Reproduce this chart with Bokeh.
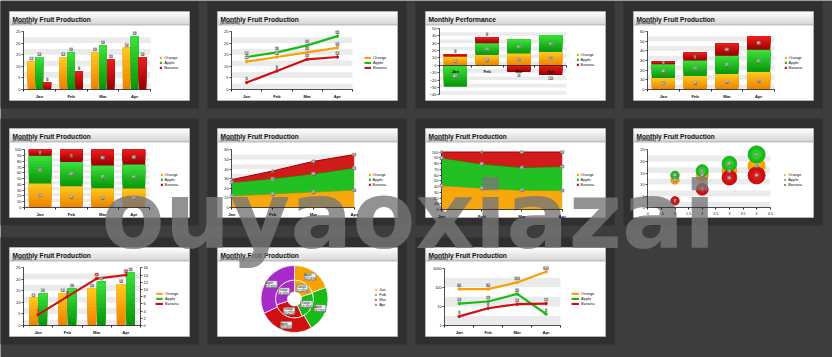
import numpy as np
from bokeh.plotting import figure
from bokeh.models import (Range1d, LinearAxis, LogAxis, LogScale, FixedTicker,
                          ColumnDataSource, LabelSet, Legend, LegendItem, BasicTickFormatter)
from bokeh.core.properties import value
from bokeh.embed import file_html
from bokeh.resources import INLINE

# ---------------- data ----------------
months = ["Jan", "Feb", "Mar", "Apr"]
series = ["Orange", "Apple", "Banana"]
orange = [12, 14, 16, 18]
apple = [14, 16, 19, 23]
banana = [3, 8, 13, 14]
perf_orange = [12, 14, 16, 18]
perf_apple = [-29, 16, 19, 23]
perf_banana = [3, 8, -9, -13]
bubble_x = [1, 2, 3, 4]
bubble_size = [1, 2, 3, 4]
log_orange = [80, 80, 180, 650]
log_apple = [14, 18, 45, 4]
log_banana = [3, 8, 13, 14]
ticks_25 = [0, 5, 10, 15, 20, 25]
ticks_60 = [0, 10, 20, 30, 40, 50, 60]
ticks_perf = [-40, -30, -20, -10, 0, 10, 20, 30, 40, 50]
ticks_100 = [0, 10, 20, 30, 40, 50, 60, 70, 80, 90, 100]
ticks_16 = [0, 2, 4, 6, 8, 10, 12, 14, 16]
ticks_log = [1, 10, 100, 1000]
ticks_bubble = [0, 0.5, 1, 1.5, 2, 2.5, 3, 3.5, 4, 4.5]
labels_bubble = ["0", "0.5", "1", "1.5", "2", "2.5", "3", "3.5", "4", "4.5"]
title_main = "Monthly Fruit Production"
title_perf = "Monthly Performance"
subtitle = "(in millions)"
watermark = "ouyaoxiazai"

# ---------------- layout / style ----------------
W, H = 832, 357
FONT = "Liberation Sans"
BG, PANEL = "#3d3d3d", "#2f2f2f"
C_OR, C_AP, C_BA, C_PU = "#f5a300", "#17bd17", "#d01010", "#a82ac8"
SER_COL = [C_OR, C_AP, C_BA]
MONTH_COL = [C_OR, C_AP, C_BA, C_PU]
GRAD = {C_OR: ("#ee8400", "#ffc61c"), C_AP: ("#0a980a", "#3ade3a"), C_BA: ("#9c0000", "#ec1c1c")}
col_x = [9, 217, 425, 633]
row_y = [11, 128, 247]
CW, CH = 180, 89
cells = [(0, 0), (1, 0), (2, 0), (3, 0), (0, 1), (1, 1), (2, 1), (3, 1), (0, 2), (1, 2), (2, 2)]

p = figure(width=W, height=H, x_range=Range1d(0, W), y_range=Range1d(H, 0),
           output_backend="svg", toolbar_location=None, x_axis_type=None, y_axis_type=None,
           min_border=0, outline_line_color=None, background_fill_color=BG,
           border_fill_color=BG)
p.extra_x_ranges = {}
p.extra_y_ranges = {}
p.extra_y_scales = {}

# panels, cards, title bars
cxs = np.array([col_x[c] for c, r in cells], dtype=float)
cys = np.array([row_y[r] for c, r in cells], dtype=float)
p.quad(left=cxs - 10, right=cxs + 189, top=np.maximum(cys - 10, 0), bottom=cys + 97,
       fill_color=PANEL, line_color=None)
p.quad(left=cxs, right=cxs + CW, top=cys, bottom=cys + CH, fill_color="white",
       line_color="#c8c8c8", line_width=0.6)
grad = ["#fbfbfb", "#f4f4f4", "#ececec", "#e4e4e4", "#dcdcdc", "#d5d5d5"]
for i, gc in enumerate(grad):
    p.quad(left=cxs + 0.5, right=cxs + CW - 0.5, top=cys + 0.5 + i * 2.1, bottom=cys + 0.5 + (i + 1) * 2.1,
           fill_color=gc, line_color=None)
p.segment(x0=cxs, x1=cxs + CW, y0=cys + 13.4, y1=cys + 13.4, line_color="#9a9a9a", line_width=0.8)
titles = [title_main, title_main, title_perf] + [title_main] * 8
p.text(x=cxs + 3, y=cys + 8.3, text=titles, text_font=value(FONT), text_font_style="bold",
       text_font_size="6.6px", text_color="#111111", text_baseline="alphabetic")
sub_idx = [i for i in range(len(cells)) if i != 2]
p.text(x=cxs[sub_idx] + 3, y=cys[sub_idx] + 11.7, text=[subtitle] * len(sub_idx),
       text_font=value(FONT), text_font_style="bold", text_font_size="3.4px",
       text_color="#222222", text_baseline="alphabetic")


# ---------------- helpers ----------------
def xr(name, a0, a1, d0, d1):
    k = (d1 - d0) / (a1 - a0)
    p.extra_x_ranges[name] = Range1d(float(d0 - a0 * k), float(d0 + (W - a0) * k))


def yr(name, a0, a1, d0, d1, log=False):
    if log:
        l0, l1 = np.log10(d0), np.log10(d1)
        k = (l1 - l0) / (a0 - a1)
        p.extra_y_ranges[name] = Range1d(float(10 ** (l0 - (H - a0) * k)), float(10 ** (l0 + a0 * k)))
        p.extra_y_scales[name] = LogScale()
    else:
        k = (d1 - d0) / (a0 - a1)
        p.extra_y_ranges[name] = Range1d(float(d0 - (H - a0) * k), float(d0 + a0 * k))


def rk(name, yname=None):
    return dict(x_range_name=name, y_range_name=yname or name)


def hex2rgb(h):
    return np.array([int(h[i:i + 2], 16) for i in (1, 3, 5)], float)


def mix(c0, c1, t):
    c = hex2rgb(c0) * (1 - t) + hex2rgb(c1) * t
    return "#%02x%02x%02x" % tuple(int(round(v)) for v in c)


def gbar(name, x, bottom, top, width, col, ns=10, yname=None):
    bottom = np.asarray(bottom, float) * np.ones(len(x))
    top = np.asarray(top, float)
    lo, hi = np.minimum(bottom, top), np.maximum(bottom, top)
    c0, c1 = GRAD[col]
    rends = []
    for j in range(ns):
        b = lo + (hi - lo) * j / ns
        rends.append(p.vbar(x=x, bottom=b, top=hi, width=width, fill_color=mix(c0, c1, j / (ns - 1)),
                            line_color=None, **rk(name, yname)))
    return rends[ns // 2]


def bands(name, x0, x1, ticks, log=False):
    b = np.array(ticks[:-1], dtype=float)
    t = np.array(ticks[1:], dtype=float)
    tops = np.sqrt(b * t) if log else b + (t - b) / 2
    p.quad(left=x0, right=x1, bottom=b, top=tops, fill_color="#ebebeb", line_color=None, **rk(name))


def labels(name, xs, ys, texts, yoff=0.0, fill="#e4e4e4", border="#888888", size="3px",
           yname=None, color="#111111"):
    data = dict(x=[float(v) for v in xs], y=[float(v) for v in ys], t=[str(s) for s in texts])
    if isinstance(yoff, (list, tuple, np.ndarray)):
        data["yo"] = [float(v) for v in yoff]
        yspec = "yo"
    else:
        yspec = yoff
    ls = LabelSet(x="x", y="y", text="t", source=ColumnDataSource(data), y_offset=yspec,
                  text_font=value(FONT), text_font_size=size, text_color=color,
                  text_align="center", text_baseline="middle",
                  background_fill_color=fill, border_line_color=border, border_line_width=0.5,
                  **rk(name, yname))
    p.add_layout(ls)


def y_axis(xname, yname, ticks, loc, side="left", log=False):
    cls = LogAxis if log else LinearAxis
    ax = cls(x_range_name=xname, y_range_name=yname, fixed_location=loc,
             bounds=(ticks[0], ticks[-1]), ticker=FixedTicker(ticks=ticks),
             axis_line_color="#222222", axis_line_width=0.8,
             major_tick_line_color="#222222", major_tick_line_width=0.8,
             major_tick_out=2, major_tick_in=0, minor_tick_line_color=None,
             major_label_text_font=FONT, major_label_text_font_size="4px",
             major_label_text_color="#111111", major_label_standoff=1)
    if log:
        ax.formatter = BasicTickFormatter()
    p.add_layout(ax, side)


def x_axis(name, loc, ticks, tick_labels, bounds, minor=None, major_ticks=False, bold=True, size="4.2px"):
    ax = LinearAxis(x_range_name=name, y_range_name=name, fixed_location=loc, bounds=bounds,
                    ticker=FixedTicker(ticks=[float(t) for t in ticks],
                                       minor_ticks=[float(t) for t in (minor or [])]),
                    major_label_overrides={float(t): l for t, l in zip(ticks, tick_labels)},
                    axis_line_color="#222222", axis_line_width=0.8,
                    major_tick_line_color="#222222" if major_ticks else None,
                    major_tick_out=2 if major_ticks else 0, major_tick_in=0,
                    minor_tick_line_color="#222222", minor_tick_out=2, minor_tick_in=0,
                    major_label_text_font=FONT, major_label_text_font_size=size,
                    major_label_text_font_style="bold" if bold else "normal",
                    major_label_text_color="#111111", major_label_standoff=2)
    p.add_layout(ax, "below")


def legend(items, left, first_center, gw=3, gh=3, pitch=4.5):
    n_i = len(items)
    bottom = first_center - pitch / 2 + n_i * pitch
    lg = Legend(items=items, location=(left, H - bottom), orientation="vertical",
                label_text_font=FONT, label_text_font_size="4px", label_text_color="#111111",
                label_standoff=2, label_height=3, label_width=8, glyph_width=gw, glyph_height=gh,
                spacing=0, padding=0, margin=0, border_line_color=None, background_fill_alpha=0)
    p.add_layout(lg)


n = len(months)
centers = np.arange(n) + 0.5
bounds_i = list(range(n + 1))
ser_vals = [np.array(orange, float), np.array(apple, float), np.array(banana, float)]

# ---------------- chart 1: grouped bars ----------------
xr("c1", 23, 150, 0, n); yr("c1", 89, 31, 0, 25)
bands("c1", 0, n, ticks_25)
rs = []
for off, vals, col in zip((-0.25, 0.0, 0.25), ser_vals, SER_COL):
    rs.append(gbar("c1", centers + off, 0, vals, 0.24, col))
for off, vals in zip((-0.25, 0.0, 0.25), ser_vals):
    labels("c1", centers + off, vals, vals.astype(int), yoff=3)
y_axis("c1", "c1", ticks_25, 0)
x_axis("c1", 0, centers, months, (0, n), minor=bounds_i)
legend([LegendItem(label=s, renderers=[r]) for s, r in zip(series, rs)], 159.2, 58.3)

# ---------------- chart 2: lines ----------------
xr("c2", 231, 352, 0, n); yr("c2", 89, 31, 0, 25)
bands("c2", 0, n, ticks_25)
items = []
for vals, col, s in zip(ser_vals, SER_COL, series):
    l = p.line(x=centers, y=vals, line_color=col, line_width=2.2, **rk("c2"))
    m = p.scatter(x=centers, y=vals, size=2.5, fill_color=col, line_color=col, **rk("c2"))
    items.append(LegendItem(label=s, renderers=[l, m]))
for vals in ser_vals:
    labels("c2", centers, vals, vals.astype(int), yoff=4)
y_axis("c2", "c2", ticks_25, 0)
x_axis("c2", 0, centers, months, (0, n), minor=bounds_i)
legend(items, 364, 58.3, gw=7)

# ---------------- chart 3: performance (stacked with negatives) ----------------
xr("c3", 439, 566, 0, n); yr("c3", 94.3, 28, -40, 50)
bands("c3", 0, n, ticks_perf)
pos = np.zeros(n); neg = np.zeros(n)
rs = []; segs = []
for vals, col in zip([perf_orange, perf_apple, perf_banana], SER_COL):
    v = np.array(vals, float)
    bot = np.where(v >= 0, pos, neg)
    top = bot + v
    pos = np.where(v >= 0, top, pos)
    neg = np.where(v < 0, top, neg)
    rs.append(gbar("c3", centers, bot, top, 0.73, col))
    segs.append((bot, top, v))
for bot, top, v in segs[:2]:
    labels("c3", centers, (bot + top) / 2, v.astype(int))
bot, top, v = segs[2]
labels("c3", centers, top, v.astype(int), yoff=list(np.where(v >= 0, 3.2, -3.2)))
y_axis("c3", "c3", ticks_perf, 0)
x_axis("c3", 0, centers, months, (0, n), minor=bounds_i)
legend([LegendItem(label=s, renderers=[r]) for s, r in zip(series, rs)], 575.5, 56)

# ---------------- chart 4: stacked bars ----------------
xr("c4", 647, 774, 0, n); yr("c4", 89, 31, 0, 60)
bands("c4", 0, n, ticks_60)
base = np.zeros(n); rs = []
for vals, col in zip(ser_vals, SER_COL):
    rs.append(gbar("c4", centers, base, base + vals, 0.73, col))
    labels("c4", centers, base + vals / 2, vals.astype(int))
    base = base + vals
y_axis("c4", "c4", ticks_60, 0)
x_axis("c4", 0, centers, months, (0, n), minor=bounds_i)
legend([LegendItem(label=s, renderers=[r]) for s, r in zip(series, rs)], 783.5, 58.3)

# ---------------- chart 5: 100% stacked bars ----------------
total = ser_vals[0] + ser_vals[1] + ser_vals[2]
pct = [v / total * 100 for v in ser_vals]
xr("c5", 24, 149, 0, n); yr("c5", 207, 149.3, 0, 100)
bands("c5", 0, n, ticks_100)
base = np.zeros(n); rs = []
for vals, pv, col in zip(ser_vals, pct, SER_COL):
    rs.append(gbar("c5", centers, base, base + pv, 0.72, col))
    labels("c5", centers, base + pv / 2, vals.astype(int))
    base = base + pv
y_axis("c5", "c5", ticks_100, 0)
x_axis("c5", 0, centers, months, (0, n), minor=bounds_i)
legend([LegendItem(label=s, renderers=[r]) for s, r in zip(series, rs)], 159.5, 176)

# ---------------- chart 6: stacked area ----------------
xi = np.arange(n)
xr("c6", 231.3, 353.7, 0, n - 1); yr("c6", 207, 149.3, 0, 60)
bands("c6", 0, n - 1, ticks_60)
base = np.zeros(n); rs = []
for vals, col in zip(ser_vals, SER_COL):
    rs.append(p.varea(x=xi, y1=base, y2=base + vals, fill_color=col, fill_alpha=0.95, **rk("c6")))
    p.line(x=xi, y=base + vals, line_color=GRAD[col][0], line_width=1, **rk("c6"))
    base = base + vals
    labels("c6", xi, base, vals.astype(int))
y_axis("c6", "c6", ticks_60, 0)
x_axis("c6", 0, xi, months, (0, n - 1), major_ticks=True)
legend([LegendItem(label=s, renderers=[r]) for s, r in zip(series, rs)], 367.5, 176)

# ---------------- chart 7: 100% stacked area ----------------
xr("c7", 441, 561.7, 0, n - 1); yr("c7", 209, 151.5, 0, 100)
bands("c7", 0, n - 1, ticks_100)
base = np.zeros(n); rs = []
for vals, pv, col in zip(ser_vals, pct, SER_COL):
    rs.append(p.varea(x=xi, y1=base, y2=base + pv, fill_color=col, fill_alpha=0.95, **rk("c7")))
    p.line(x=xi, y=base + pv, line_color=GRAD[col][0], line_width=1, **rk("c7"))
    base = base + pv
    labels("c7", xi, base, vals.astype(int))
y_axis("c7", "c7", ticks_100, 0)
x_axis("c7", 0, xi, months, (0, n - 1), major_ticks=True)
legend([LegendItem(label=s, renderers=[r]) for s, r in zip(series, rs)], 575.5, 176)

# ---------------- chart 8: bubbles ----------------
xr("c8", 647.3, 769.7, 0, 4.5); yr("c8", 207.3, 149.3, 0, 25)
bands("c8", 0, 4.5, ticks_25)
sizes = np.sqrt(np.array(bubble_size, float)) * 8.6
rs = []
for vals, col in zip(ser_vals, SER_COL):
    rs.append(p.scatter(x=bubble_x, y=vals, size=sizes, marker="circle", fill_color=col,
                        line_color=GRAD[col][0], line_width=0.6, **rk("c8")))
    p.scatter(x=bubble_x, y=vals, size=sizes * 0.6, marker="circle", fill_color=GRAD[col][1],
              fill_alpha=0.5, line_color=None, **rk("c8"))
for vals in ser_vals:
    labels("c8", bubble_x, vals, vals.astype(int))
y_axis("c8", "c8", ticks_25, 0)
x_axis("c8", 0, ticks_bubble, labels_bubble, (0, 4.5), major_ticks=True, bold=False, size="3.6px")
legend([LegendItem(label=s, renderers=[r]) for s, r in zip(series, rs)], 783.2, 176)

# ---------------- chart 9: bars + line on secondary axis ----------------
xr("c9", 23, 140, 0, n); yr("c9", 325, 267.3, 0, 25); yr("c9r", 325, 267.3, 0, 16)
bands("c9", 0, n, ticks_25)
rs = []
for off, vals, col in zip((-0.16, 0.16), ser_vals[:2], SER_COL[:2]):
    rs.append(gbar("c9", centers + off, 0, vals, 0.3, col))
    labels("c9", centers + off, vals, vals.astype(int), yoff=3)
lb = p.line(x=centers, y=ser_vals[2], line_color=C_BA, line_width=2.2, **rk("c9", "c9r"))
mb = p.scatter(x=centers, y=ser_vals[2], size=2.5, fill_color=C_BA, line_color=C_BA, **rk("c9", "c9r"))
labels("c9", centers, ser_vals[2], ser_vals[2].astype(int), yoff=4, fill="#f3b0b0",
       border="#cc3333", yname="c9r")
y_axis("c9", "c9", ticks_25, 0)
y_axis("c9", "c9r", ticks_16, n, side="right")
x_axis("c9", 0, centers, months, (0, n), minor=bounds_i)
legend([LegendItem(label="Orange", renderers=[rs[0]]), LegendItem(label="Apple", renderers=[rs[1]]),
        LegendItem(label="Banana", renderers=[lb, mb])], 155, 294.3, gw=8)

# ---------------- chart 10: donut ----------------
xr("c10", 294, 295, 0, 1); yr("c10", 298.5, 297.5, 0, 1)
ring_r = {"Orange": (7, 19), "Apple": (19, 33.5)}
outer_r = None
for sname, vals in (("Orange", ser_vals[0]), ("Apple", ser_vals[1])):
    fr = vals / vals.sum()
    cum = np.concatenate([[0.0], np.cumsum(fr)])
    start = np.pi / 2 - cum[1:] * 2 * np.pi
    end = np.pi / 2 - cum[:-1] * 2 * np.pi
    r0, r1 = ring_r[sname]
    r = p.annular_wedge(x=0, y=0, inner_radius=r0, outer_radius=r1, start_angle=start,
                        end_angle=end, fill_color=MONTH_COL, line_color="white",
                        line_width=0.7, **rk("c10"))
    if sname == "Apple":
        outer_r = r
    mid = (start + end) / 2
    rm = (r0 + r1) / 2 + (1.0 if sname == "Apple" else 0.0)
    txt = [f"{sname}\n{int(v)} ({f * 100:.0f}%)" for v, f in zip(vals, fr)]
    labels("c10", rm * np.cos(mid), rm * np.sin(mid), txt, size="2.8px", fill="#eeeeee",
           border="#777777")
legend([LegendItem(label=m, renderers=[outer_r], index=i) for i, m in enumerate(months)],
       374.2, 291.7)

# ---------------- chart 11: log scale lines ----------------
xr("c11", 444.3, 560, 0, n); yr("c11", 325, 267.7, 1, 1000, log=True)
bands("c11", 0, n, ticks_log, log=True)
items = []
for vals, col, s in zip([log_orange, log_apple, log_banana], SER_COL, series):
    l = p.line(x=centers, y=vals, line_color=col, line_width=2.2, **rk("c11"))
    m = p.scatter(x=centers, y=vals, size=2.5, fill_color=col, line_color=col, **rk("c11"))
    items.append(LegendItem(label=s, renderers=[l, m]))
    labels("c11", centers, vals, vals, yoff=4)
y_axis("c11", "c11", ticks_log, 0, log=True)
x_axis("c11", 1, centers, months, (0, n), minor=bounds_i)
legend(items, 571, 294.3, gw=8)

# ---------------- watermark ----------------
p.text(x=[101], y=[216], text=[watermark], text_font=value("DejaVu Sans"), text_font_style="bold",
       text_font_size="92px", text_color="#777777", text_alpha=0.8, text_baseline="alphabetic")

open("out.html", "w").write(file_html(p, INLINE))
